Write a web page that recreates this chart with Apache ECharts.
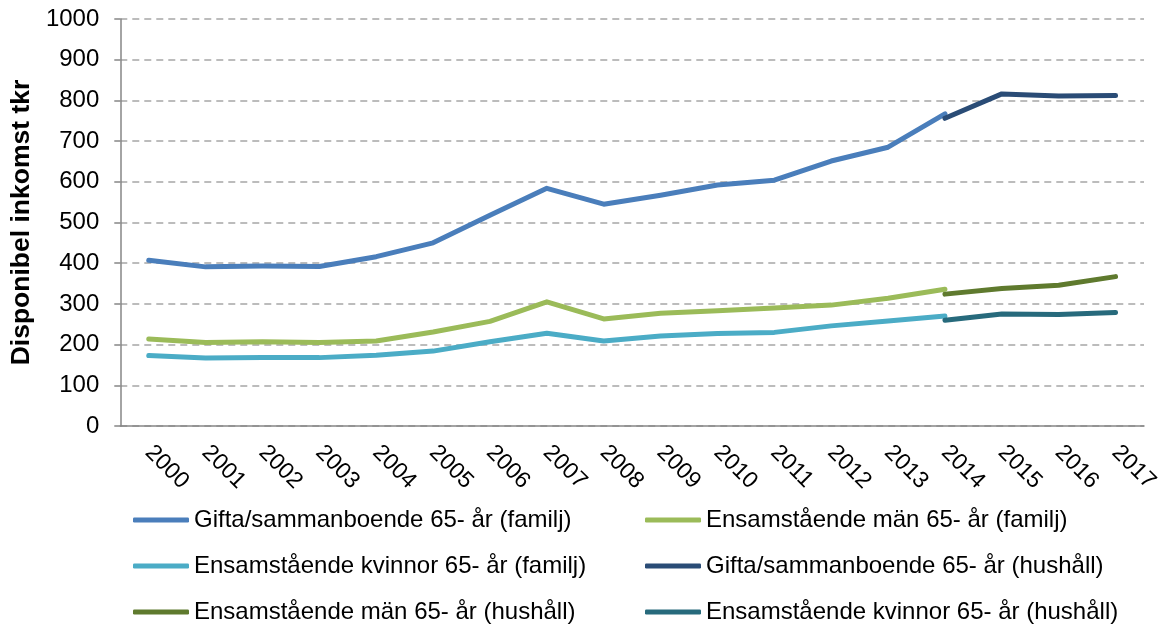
<!DOCTYPE html>
<html style="height: 100%">
<head>
  <meta charset="UTF-8">
  <title>Disponibel inkomst 65- år</title>
  <script src="https://cdn.jsdelivr.net/npm/echarts@6/dist/echarts.min.js"></script>
  <style>
    html, body {
      margin: 0;
      height: 100%;
      width: 100%;
      background: #fff;
    }
    #chart {
      width: 1168px;
      height: 631px;
    }
  </style>
</head>
<body>
  <div id="chart"></div>
  <script>
    // data
    const years = ['2000', '2001', '2002', '2003', '2004', '2005', '2006', '2007', '2008',
      '2009', '2010', '2011', '2012', '2013', '2014', '2015', '2016', '2017'];
    const giftaFamilj = [407, 391, 393, 392, 416, 450, 518, 584, 545, 567, 592, 604, 651, 685, 767, null, null, null];
    const manFamilj = [214, 205, 207, 205, 209, 231, 257, 305, 263, 277, 283, 290, 297, 314, 336, null, null, null];
    const kvinnorFamilj = [173, 167, 168, 168, 174, 184, 207, 228, 209, 221, 227, 230, 246, 258, 270, null, null, null];
    const giftaHushall = [null, null, null, null, null, null, null, null, null, null, null, null, null, null, 756, 816, 811, 812];
    const manHushall = [null, null, null, null, null, null, null, null, null, null, null, null, null, null, 324, 338, 346, 367];
    const kvinnorHushall = [null, null, null, null, null, null, null, null, null, null, null, null, null, null, 260, 275, 274, 279];

    const names = [
      'Gifta/sammanboende 65- år (familj)',
      'Ensamstående män 65- år (familj)',
      'Ensamstående kvinnor 65- år (familj)',
      'Gifta/sammanboende 65- år (hushåll)',
      'Ensamstående män 65- år (hushåll)',
      'Ensamstående kvinnor 65- år (hushåll)'
    ];
    const colors = ['#4a7ebb', '#9bbb59', '#4bacc6', '#2a4c76', '#5f7a2e', '#276a7c'];
    const seriesData = [giftaFamilj, manFamilj, kvinnorFamilj, giftaHushall, manHushall, kvinnorHushall];

    const font = 'Arial, "Liberation Sans", sans-serif';

    const chart = echarts.init(document.getElementById('chart'));

    // one legend per entry: two columns, three rows
    const legendCols = [133, 645];
    const legendRows = [508, 554, 600];
    const legends = names.map((n, i) => ({
      left: legendCols[i % 2],
      top: legendRows[Math.floor(i / 2)],
      padding: 0,
      data: [n],
      itemWidth: 56,
      itemHeight: 5,
      icon: 'roundRect',
      textStyle: { fontFamily: font, fontSize: 24, color: '#000', lineHeight: 24 }
    }));

    chart.setOption({
      color: colors,
      animation: false,
      legend: legends,
      grid: {
        left: 119,
        right: 24,
        top: 19,
        bottom: 205
      },
      xAxis: {
        type: 'category',
        data: years,
        boundaryGap: true,
        axisLine: { lineStyle: { color: '#868686', width: 1.5 } },
        axisTick: { length: 6, lineStyle: { color: '#868686', width: 1.5 } },
        axisLabel: {
          interval: 0,
          rotate: -45,
          margin: 23,
          fontFamily: font,
          fontSize: 23,
          color: '#000'
        }
      },
      yAxis: {
        type: 'value',
        min: 0,
        max: 1000,
        interval: 100,
        name: 'Disponibel inkomst tkr',
        nameLocation: 'middle',
        nameGap: 81,
        nameTextStyle: { fontFamily: font, fontSize: 26.5, fontWeight: 'bold', color: '#000' },
        axisLine: { show: true, lineStyle: { color: '#868686', width: 1.5 } },
        axisTick: { show: true, length: 6, lineStyle: { color: '#868686', width: 1.5 } },
        axisLabel: {
          margin: 21,
          fontFamily: font,
          fontSize: 24,
          color: '#000',
          formatter: v => String(v)
        },
        splitLine: { lineStyle: { color: '#a6a6a6', width: 1.5, type: [7, 5] } }
      },
      series: seriesData.map((d, i) => ({
        name: names[i],
        type: 'line',
        data: d,
        symbol: 'none',
        lineStyle: { width: 5, cap: 'round', join: 'round' }
      }))
    });
  </script>
</body>
</html>
